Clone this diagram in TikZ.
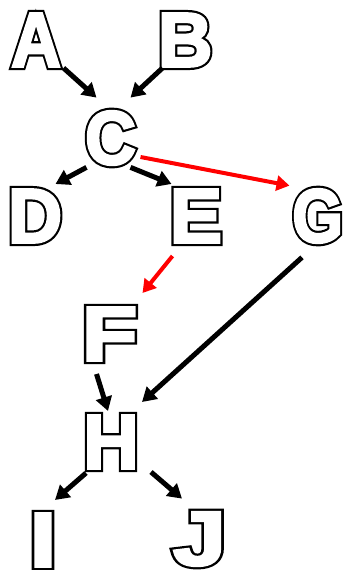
\documentclass[tikz,border=0pt]{standalone}
\usepackage{fontspec}
\usepackage{graphicx}
\setmainfont{Liberation Sans}
\usetikzlibrary{arrows.meta,calc}

% one glyph with its side bearings trimmed off
\newcommand\inkonly[1]{%
  \kern-\XeTeXglyphbounds1 \XeTeXcharglyph`#1\relax
  #1%
  \kern-\XeTeXglyphbounds3 \XeTeXcharglyph`#1\relax}

% heavy outlined capital: a wide black stroke under a narrower white
% fill-and-stroke of the same glyph, squeezed into a fixed box
\newcommand\hollowletter[2]{%
  \resizebox{#1}{53pt}{%
    \fontsize{87}{87}\selectfont\bfseries
    \rlap{\special{pdf:literal direct 2 Tr 8 w 0 g 0 G}\inkonly{#2}}%
    \special{pdf:literal direct 2 Tr 3 w 1 g 1 G}\inkonly{#2}%
    \special{pdf:literal direct 0 Tr 0 g 0 G}}}

\tikzset{
  letter/.style={inner sep=3.5pt, outer sep=0pt},
  blackarrow/.style={line width=5pt, -{Triangle[length=14pt,width=16pt]}},
  redarrow/.style={line width=4pt, red, -{Triangle[length=13pt,width=15pt]}}
}

\begin{document}
\begin{tikzpicture}[x=1pt, y=-1pt]
  \useasboundingbox (0,0) rectangle (343,570);

  \node[letter] (A) at (36,40)    {\hollowletter{46pt}{A}};
  \node[letter] (B) at (186,40)   {\hollowletter{46pt}{B}};
  \node[letter] (C) at (111,138)  {\hollowletter{46pt}{C}};
  \node[letter] (D) at (36,216)   {\hollowletter{46pt}{D}};
  \node[letter] (E) at (197,216)  {\hollowletter{44pt}{E}};
  \node[letter] (G) at (317,216)  {\hollowletter{44pt}{G}};
  \node[letter] (F) at (111,334)  {\hollowletter{46pt}{F}};
  \node[letter] (H) at (111,442)  {\hollowletter{45pt}{H}};
  \node[letter] (I) at (43,540)   {\hollowletter{14pt}{I}};
  \node[letter] (J) at (197,539)  {\hollowletter{45pt}{J}};

  \draw[blackarrow] ($(A.south east)+(1,-2)$) -- ($(C.north west)+(12,-10)$);
  \draw[blackarrow] ($(B.south west)+(3,-2)$) -- ($(C.north east)+(-7,-10)$);
  \draw[blackarrow] ($(C.south west)+(2,-1)$) -- ($(D.north east)+(-7,-2)$);
  \draw[blackarrow] ($(C.south east)+(-7,-1)$) -- ($(E.north west)+(0,-2)$);
  \draw[redarrow]   ($(C.east)+(3,19)$) -- ($(G.north west)+(-2,0)$);
  \draw[redarrow]   ($(E.south west)+(1,10)$) -- ($(F.north east)+(5,-11)$);
  \draw[blackarrow] ($(G.south)+(-15,11)$) -- ($(H.north east)+(5,-10)$);
  \draw[blackarrow] ($(F.south west)+(12,10)$) -- ($(H.north)+(-3,-1)$);
  \draw[blackarrow] ($(H.south west)+(1,1)$) -- ($(I.north)+(12,-10)$);
  \draw[blackarrow] ($(H.south east)+(14,0)$) -- ($(J.north west)+(11,-10)$);
\end{tikzpicture}
\end{document}
